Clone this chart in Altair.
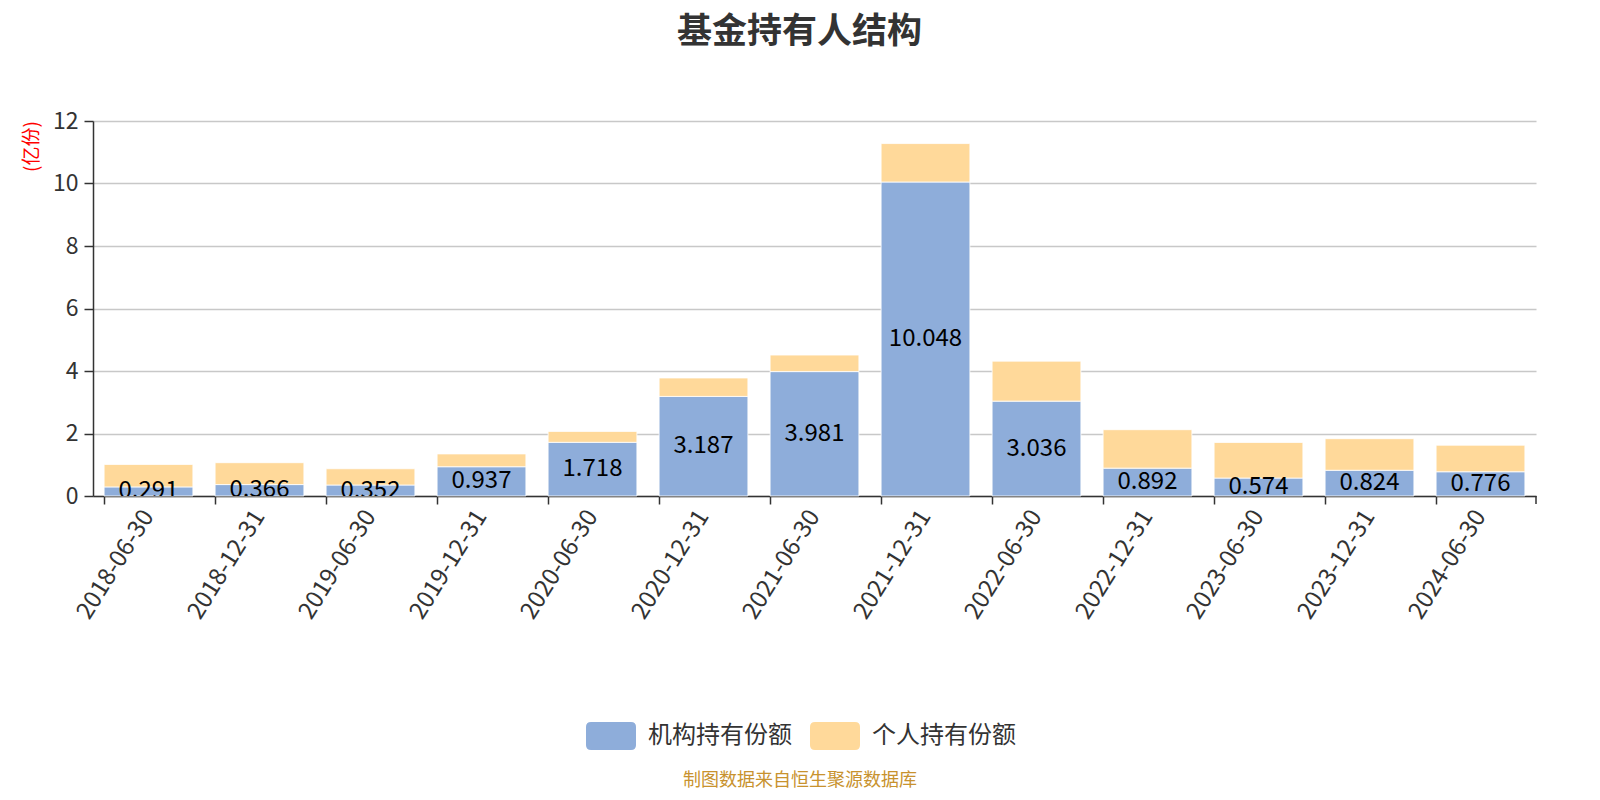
import altair as alt
import pandas as pd

dates = ["2018-06-30", "2018-12-31", "2019-06-30", "2019-12-31", "2020-06-30",
         "2020-12-31", "2021-06-30", "2021-12-31", "2022-06-30", "2022-12-31",
         "2023-06-30", "2023-12-31", "2024-06-30"]
inst = [0.291, 0.366, 0.352, 0.937, 1.718, 3.187, 3.981, 10.048, 3.036, 0.892, 0.574, 0.824, 0.776]
indiv = [0.72, 0.70, 0.52, 0.41, 0.35, 0.59, 0.53, 1.23, 1.28, 1.23, 1.14, 1.01, 0.85]
series = ["机构持有份额", "个人持有份额"]
colors = ["#8EADDA", "#FFD99A"]

rows = []
for d, a, b in zip(dates, inst, indiv):
    rows.append({"date": d, "series": series[0], "value": a, "ord": 0})
    rows.append({"date": d, "series": series[1], "value": b, "ord": 1})
df = pd.DataFrame(rows)
lab = pd.DataFrame({"date": dates, "value": inst,
                    "mid": [v / 2 for v in inst],
                    "txt": [f"{v:.3f}" for v in inst]})

FONT = "Noto Sans CJK SC"
W, H = 1443, 375

xenc = alt.X("date:N", sort=dates, title=None,
             scale=alt.Scale(paddingInner=0.2, paddingOuter=0.1),
             axis=alt.Axis(labelAngle=-58, labelFontSize=24, labelColor="#333",
                           labelFont=FONT, labelPadding=8,
                           bandPosition=0, tickColor="#333", tickSize=8,
                           domainColor="#333", domainWidth=1.5, tickWidth=1.5,
                           grid=False))

bars = alt.Chart(df).mark_bar(stroke="white", strokeWidth=0.8).encode(
    x=xenc,
    y=alt.Y("value:Q", stack="zero",
            scale=alt.Scale(domain=[0, 12]),
            axis=alt.Axis(values=[0, 2, 4, 6, 8, 10, 12], labelFontSize=23,
                          labelColor="#333", labelFont=FONT, labelPadding=6,
                          tickColor="#333", tickSize=9, tickWidth=1.5,
                          domainColor="#333", domainWidth=1.5,
                          gridColor="#c8c8c8", gridWidth=1.5,
                          title="(亿份)", titleColor="red", titleFontSize=19,
                          titleFont=FONT, titleFontWeight="normal",
                          titleX=-62, titleY=25, titleAngle=270,
                          titleAlign="center", titleBaseline="middle")),
    color=alt.Color("series:N", scale=alt.Scale(domain=series, range=colors),
                    legend=alt.Legend(title=None, orient="none", direction="horizontal",
                                      legendX=493, legendY=590,
                                      symbolType="M-0.8,-0.56H0.8Q1,-0.56 1,-0.36V0.36Q1,0.56 0.8,0.56H-0.8Q-1,0.56 -1,0.36V-0.36Q-1,-0.56 -0.8,-0.56Z",
                                      symbolSize=2500, symbolStrokeWidth=0,
                                      symbolOpacity=1,
                                      labelFontSize=24, labelFont=FONT,
                                      labelColor="#333", labelOffset=12,
                                      columnPadding=18)),
    order=alt.Order("ord:Q"),
)

texts = alt.Chart(lab).mark_text(fontSize=24, font=FONT, color="black",
                                 baseline="middle", clip=True).encode(
    x=alt.X("date:N", sort=dates),
    y=alt.Y("mid:Q"),
    text="txt:N",
)

endtick = alt.Chart(pd.DataFrame({"k": [0]})).mark_rule(color="#333", strokeWidth=1.5).encode(
    x=alt.value(W), y=alt.value(H), y2=alt.value(H + 8))

footer = alt.Chart(pd.DataFrame({"t": ["制图数据来自恒生聚源数据库"]})).mark_text(
    fontSize=18, font=FONT, color="#C8922E", align="center", baseline="middle").encode(
    x=alt.value(707), y=alt.value(660), text="t:N")

chart = alt.layer(bars, texts, endtick, footer).properties(
    width=W, height=H,
    title=alt.Title("基金持有人结构", fontSize=35, fontWeight="bold", color="#333",
                    font=FONT, anchor="middle", frame="group", offset=60, dx=-15),
    autosize=alt.AutoSizeParams(type="none"),
    padding={"left": 85, "top": 113, "right": 56, "bottom": 296},
    background="white",
).configure_view(stroke=None)

chart.save("out.html", embed_options={"renderer": "svg", "actions": False})
